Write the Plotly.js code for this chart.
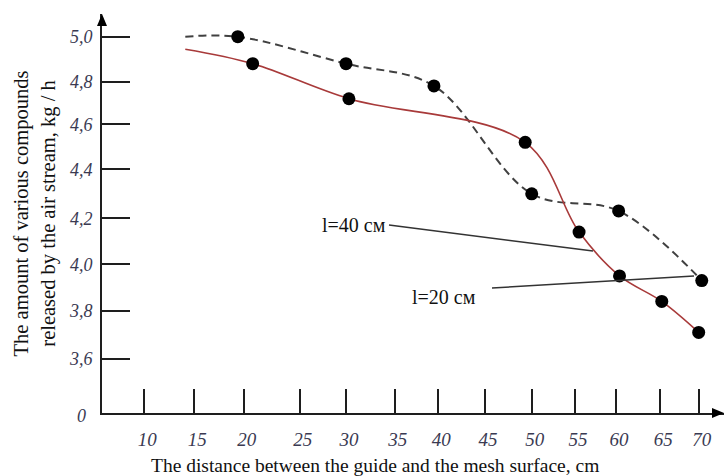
<!DOCTYPE html>
<html>
<head>
<meta charset="utf-8">
<script src="https://cdn.plot.ly/plotly-3.0.1.min.js"></script>
<style>html,body{margin:0;padding:0;background:#fff;}#chart{width:724px;height:476px;}</style>
</head>
<body>
<div id="chart"></div>
<script>
// ---- data ----
const xTickVals = [10, 15, 20, 25, 30, 35, 40, 45, 50, 55, 60, 65, 70];
const xTickLabels = ['10', '15', '20', '25', '30', '35', '40', '45', '50', '55', '60', '65', '70'];
const yTickVals = [3.6, 3.8, 4.0, 4.2, 4.4, 4.6, 4.8, 5.0];
const yTickLabels = ['3,6', '3,8', '4,0', '4,2', '4,4', '4,6', '4,8', '5,0'];

// l = 20 cm (dashed curve)
const l20X = [19.4, 30, 39.5, 50, 60.3, 70.4];
const l20Y = [5.0, 4.88, 4.78, 4.30, 4.23, 3.93];
const l20StartX = 14.1, l20StartY = 5.0;

// l = 40 cm (red curve)
const l40X = [20.8, 30.3, 49.3, 55.5, 60.4, 65.2, 70];
const l40Y = [4.88, 4.72, 4.52, 4.14, 3.95, 3.84, 3.71];
const l40StartX = 14.1, l40StartY = 4.944;

// ---- drawn positions of the hand-made (slightly uneven) scale ----
const xTickAt = [10, 15.41, 20.76, 26.82, 31.83, 37.10, 41.82, 46.87, 51.93, 56.61, 61.05, 65.84, 70];
const yTickAt = [3.6, 3.8097, 4.0113, 4.2111, 4.424, 4.6195, 4.8045, 5.0];

function warp(v, vals, at) {
  const n = vals.length;
  let i = 0;
  if (v <= vals[0]) i = 0;
  else if (v >= vals[n - 1]) i = n - 2;
  else { while (!(v >= vals[i] && v <= vals[i + 1])) i++; }
  const t = (v - vals[i]) / (vals[i + 1] - vals[i]);
  return at[i] + t * (at[i + 1] - at[i]);
}
const wx = v => warp(v, xTickVals, xTickAt);
const wy = v => warp(v, yTickVals, yTickAt);

const serif = 'Liberation Serif, Times New Roman, serif';

const traces = [
  { // l=20 curve
    x: [l20StartX].concat(l20X).map(wx),
    y: [l20StartY].concat(l20Y).map(wy),
    mode: 'lines', line: { color: '#404040', width: 2, dash: '8px,5px', shape: 'spline', smoothing: 1 },
    hoverinfo: 'skip', showlegend: false
  },
  { // l=40 curve
    x: [l40StartX].concat(l40X).map(wx),
    y: [l40StartY].concat(l40Y).map(wy),
    mode: 'lines', line: { color: '#a83a3a', width: 1.6, shape: 'spline', smoothing: 1 },
    hoverinfo: 'skip', showlegend: false
  },
  {
    x: l20X.map(wx), y: l20Y.map(wy), mode: 'markers', name: 'l=20 см',
    marker: { color: '#000', size: 13 }, showlegend: false
  },
  {
    x: l40X.map(wx), y: l40Y.map(wy), mode: 'markers', name: 'l=40 см',
    marker: { color: '#000', size: 13 }, showlegend: false
  }
];

const W = 724, H = 476, ML = 102, MR = 0, MT = 14, MB = 63;
const PW = W - ML - MR, PH = H - MT - MB;
const px = p => (p - ML) / PW;       // pixel -> paper x
const py = p => (H - MB - p) / PH;   // pixel -> paper y

const layout = {
  width: W, height: H,
  margin: { l: ML, r: MR, t: MT, b: MB, pad: 0 },
  paper_bgcolor: '#fff', plot_bgcolor: '#fff',
  showlegend: false,
  xaxis: {
    range: [5.422, 72.74], showgrid: false, zeroline: false,
    showline: true, linecolor: '#1e1e1e', linewidth: 2,
    tickmode: 'array', tickvals: xTickAt, ticktext: xTickLabels,
    ticks: 'inside', ticklen: 24, tickwidth: 2, tickcolor: '#1e1e1e',
    ticklabelstandoff: 8, ticklabelshift: 3,
    tickfont: { family: serif, size: 19, style: 'italic', color: '#3a3a52' }
  },
  yaxis: {
    range: [3.3653, 5.0986], showgrid: false, zeroline: false,
    showline: true, linecolor: '#1e1e1e', linewidth: 2,
    tickmode: 'array', tickvals: yTickAt, ticktext: yTickLabels,
    ticks: 'inside', ticklen: 28, tickwidth: 2, tickcolor: '#1e1e1e',
    ticklabelstandoff: 4,
    tickfont: { family: serif, size: 18, style: 'italic', color: '#3a3a52' },
    title: {
      text: 'The amount of various compounds<br>released by the air stream, kg / h',
      font: { family: serif, size: 20.5, color: '#111' }, standoff: 8
    }
  },
  shapes: [
    { type: 'path', xref: 'paper', yref: 'paper',
      path: `M ${px(ML)} ${py(14)} L ${px(ML - 5)} ${py(26)} L ${px(ML + 5)} ${py(26)} Z`,
      fillcolor: '#000', line: { width: 0 } },
    { type: 'path', xref: 'paper', yref: 'paper',
      path: `M ${px(724)} ${py(413)} L ${px(712)} ${py(408)} L ${px(712)} ${py(418)} Z`,
      fillcolor: '#000', line: { width: 0 } },
    { type: 'line', xref: 'paper', yref: 'paper',
      x0: px(389), y0: py(225), x1: px(593), y1: py(251),
      line: { color: '#333', width: 1.5 } },
    { type: 'line', xref: 'paper', yref: 'paper',
      x0: px(492), y0: py(288), x1: px(694), y1: py(276),
      line: { color: '#333', width: 1.5 } }
  ],
  annotations: [
    { xref: 'paper', yref: 'paper', x: px(388), y: py(225), xanchor: 'right', yanchor: 'middle',
      text: 'l=40 см', showarrow: false, font: { family: serif, size: 20, color: '#111' } },
    { xref: 'paper', yref: 'paper', x: px(410), y: py(297), xanchor: 'left', yanchor: 'middle',
      text: 'l=20 см', showarrow: false, font: { family: serif, size: 20, color: '#111' } },
    { xref: 'paper', yref: 'paper', x: px(88), y: py(416), xanchor: 'right', yanchor: 'middle',
      text: '0', showarrow: false, font: { family: serif, size: 18, style: 'italic', color: '#3a3a52' } },
    { xref: 'paper', yref: 'paper', x: px(375), y: py(465), xanchor: 'center', yanchor: 'middle',
      text: 'The distance between the guide and the mesh surface, cm', showarrow: false,
      font: { family: serif, size: 19.5, color: '#111' } }
  ]
};

Plotly.newPlot('chart', traces, layout, { staticPlot: true, displayModeBar: false });
</script>
</body>
</html>
